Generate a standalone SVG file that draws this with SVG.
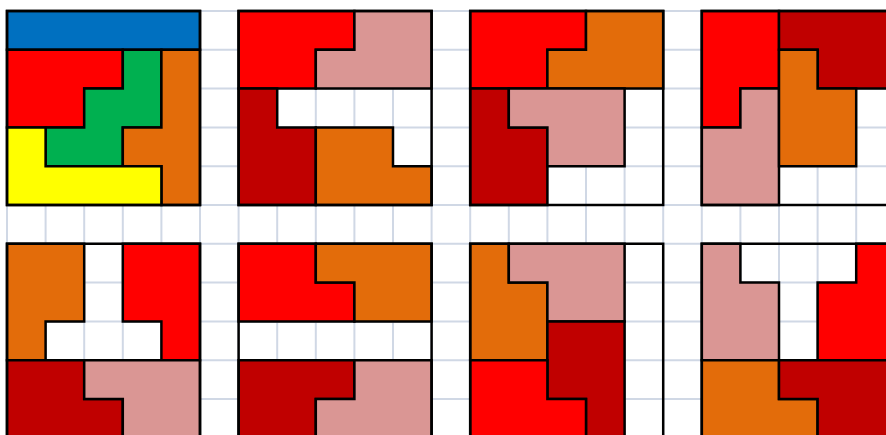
<svg xmlns="http://www.w3.org/2000/svg" width="886" height="435" viewBox="0 0 886 435">
  <style>
    .grid { fill: none; stroke: #D0D8E5; stroke-width: 2; vector-effect: non-scaling-stroke; }
    .pc { stroke: #000; stroke-width: 2.5; stroke-linejoin: miter; vector-effect: non-scaling-stroke; }
    .frame { fill: none; stroke: #000; stroke-width: 2.5; vector-effect: non-scaling-stroke; }
    .blue { fill: #0070C0; }
    .red { fill: #FF0000; }
    .dred { fill: #C00000; }
    .orange { fill: #E36C0A; }
    .pink { fill: #DA9694; }
    .green { fill: #00B050; }
    .yellow { fill: #FFFF00; }
  </style>
  <rect x="0" y="0" width="886" height="435" fill="#FFFFFF"/>
  <g transform="translate(7,11) scale(38.6,38.8)">
    <path id="grid" class="grid" d="M0,0V12 M1,0V12 M2,0V12 M3,0V12 M4,0V12 M5,0V12 M6,0V12 M7,0V12 M8,0V12 M9,0V12 M10,0V12 M11,0V12 M12,0V12 M13,0V12 M14,0V12 M15,0V12 M16,0V12 M17,0V12 M18,0V12 M19,0V12 M20,0V12 M21,0V12 M22,0V12 M23,0V12 M0,0H24 M0,1H24 M0,2H24 M0,3H24 M0,4H24 M0,5H24 M0,6H24 M0,7H24 M0,8H24 M0,9H24 M0,10H24 M0,11H24"/>

    <g id="panel1" transform="translate(0,0)">
      <polygon class="pc blue" points="0,0 5,0 5,1 0,1"/>
      <polygon class="pc red" points="0,1 3,1 3,2 2,2 2,3 0,3"/>
      <polygon class="pc green" points="3,1 4,1 4,3 3,3 3,4 1,4 1,3 2,3 2,2 3,2"/>
      <polygon class="pc orange" points="4,1 5,1 5,5 4,5 4,4 3,4 3,3 4,3"/>
      <polygon class="pc yellow" points="0,3 1,3 1,4 4,4 4,5 0,5"/>
      <rect class="frame" x="0" y="0" width="5" height="5"/>
    </g>

    <g id="panel2" transform="translate(6,0)">
      <polygon class="pc red" points="0,0 3,0 3,1 2,1 2,2 0,2"/>
      <polygon class="pc pink" points="3,0 5,0 5,2 2,2 2,1 3,1"/>
      <polygon class="pc dred" points="0,2 1,2 1,3 2,3 2,5 0,5"/>
      <polygon class="pc orange" points="2,3 4,3 4,4 5,4 5,5 2,5"/>
      <rect class="frame" x="0" y="0" width="5" height="5"/>
    </g>

    <g id="panel3" transform="translate(12,0)">
      <polygon class="pc red" points="0,0 3,0 3,1 2,1 2,2 0,2"/>
      <polygon class="pc orange" points="3,0 5,0 5,2 2,2 2,1 3,1"/>
      <polygon class="pc dred" points="0,2 1,2 1,3 2,3 2,5 0,5"/>
      <polygon class="pc pink" points="1,2 4,2 4,4 2,4 2,3 1,3"/>
      <rect class="frame" x="0" y="0" width="5" height="5"/>
    </g>

    <g id="panel4" transform="translate(18,0)">
      <polygon class="pc red" points="0,0 2,0 2,2 1,2 1,3 0,3"/>
      <polygon class="pc pink" points="1,2 2,2 2,5 0,5 0,3 1,3"/>
      <polygon class="pc dred" points="2,0 5,0 5,2 3,2 3,1 2,1"/>
      <polygon class="pc orange" points="2,1 3,1 3,2 4,2 4,4 2,4"/>
      <rect class="frame" x="0" y="0" width="5" height="5"/>
    </g>

    <g id="panel5" transform="translate(0,6)">
      <polygon class="pc orange" points="0,0 2,0 2,2 1,2 1,3 0,3"/>
      <polygon class="pc red" points="3,0 5,0 5,3 4,3 4,2 3,2"/>
      <polygon class="pc dred" points="0,3 2,3 2,4 3,4 3,5 0,5"/>
      <polygon class="pc pink" points="2,3 5,3 5,5 3,5 3,4 2,4"/>
      <rect class="frame" x="0" y="0" width="5" height="5"/>
    </g>

    <g id="panel6" transform="translate(6,6)">
      <polygon class="pc red" points="0,0 2,0 2,1 3,1 3,2 0,2"/>
      <polygon class="pc orange" points="2,0 5,0 5,2 3,2 3,1 2,1"/>
      <polygon class="pc dred" points="0,3 3,3 3,4 2,4 2,5 0,5"/>
      <polygon class="pc pink" points="3,3 5,3 5,5 2,5 2,4 3,4"/>
      <rect class="frame" x="0" y="0" width="5" height="5"/>
    </g>

    <g id="panel7" transform="translate(12,6)">
      <polygon class="pc orange" points="0,0 1,0 1,1 2,1 2,3 0,3"/>
      <polygon class="pc pink" points="1,0 4,0 4,2 2,2 2,1 1,1"/>
      <polygon class="pc dred" points="2,2 4,2 4,5 3,5 3,4 2,4"/>
      <polygon class="pc red" points="0,3 2,3 2,4 3,4 3,5 0,5"/>
      <rect class="frame" x="0" y="0" width="5" height="5"/>
    </g>

    <g id="panel8" transform="translate(18,6)">
      <polygon class="pc pink" points="0,0 1,0 1,1 2,1 2,3 0,3"/>
      <polygon class="pc red" points="4,0 5,0 5,3 3,3 3,1 4,1"/>
      <polygon class="pc orange" points="0,3 2,3 2,4 3,4 3,5 0,5"/>
      <polygon class="pc dred" points="2,3 5,3 5,5 3,5 3,4 2,4"/>
      <rect class="frame" x="0" y="0" width="5" height="5"/>
    </g>
  </g>
</svg>
